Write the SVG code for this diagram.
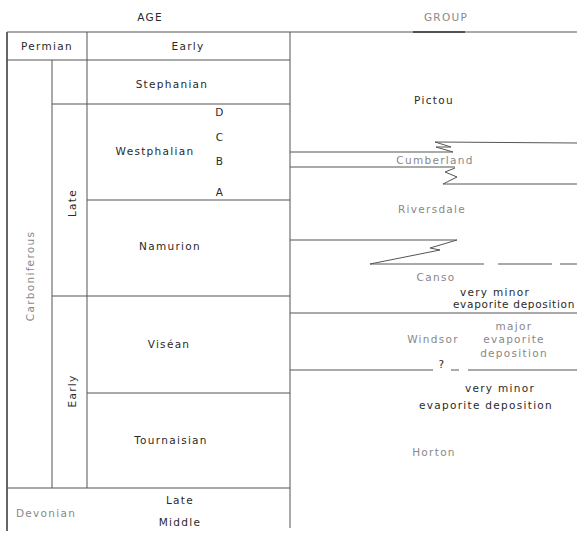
<svg xmlns="http://www.w3.org/2000/svg" width="577" height="534" viewBox="0 0 577 534">
<style>
.t{font-family:"DejaVu Sans",sans-serif;font-size:10.5px;fill:#2a2a2a;letter-spacing:1.3px;text-anchor:middle}
.s{fill:#888}
.l{stroke:#555;stroke-width:1;fill:none}
.b{stroke:#333;stroke-width:1.5;fill:none}
</style>
<rect width="577" height="534" fill="#fff"/>
<text class="t" x="150" y="21">AGE</text>
<text class="t s" x="446" y="21">GROUP</text>
<g id="table">
<line class="b" x1="7" y1="32" x2="7" y2="531"/>
<line class="l" x1="7" y1="32" x2="577" y2="32"/>
<line class="b" x1="413" y1="32" x2="465" y2="32"/>
<line class="l" x1="290" y1="32" x2="290" y2="528"/>
<line class="l" x1="87" y1="32" x2="87" y2="60"/>
<line class="l" x1="7" y1="60" x2="290" y2="60"/>
<line class="l" x1="52" y1="60" x2="52" y2="488"/>
<line class="l" x1="87" y1="60" x2="87" y2="488"/>
<line class="l" x1="52" y1="104" x2="290" y2="104"/>
<line class="l" x1="87" y1="200" x2="290" y2="200"/>
<line class="l" x1="52" y1="296" x2="290" y2="296"/>
<line class="l" x1="87" y1="393" x2="290" y2="393"/>
<line class="l" x1="7" y1="488" x2="290" y2="488"/>
</g>
<g id="age-labels">
<text class="t" x="47" y="50">Permian</text>
<text class="t" x="188" y="50">Early</text>
<text class="t" x="172" y="88">Stephanian</text>
<text class="t" x="155" y="155">Westphalian</text>
<text class="t" x="220" y="116">D</text>
<text class="t" x="220" y="141">C</text>
<text class="t" x="220" y="165">B</text>
<text class="t" x="220" y="196">A</text>
<text class="t" x="170" y="250">Namurion</text>
<text class="t" x="169" y="348">Viséan</text>
<text class="t" x="171" y="444">Tournaisian</text>
<text class="t s" x="46" y="517">Devonian</text>
<text class="t" x="180" y="504">Late</text>
<text class="t" x="180" y="526">Middle</text>
<text class="t" transform="translate(76,203) rotate(-90)">Late</text>
<text class="t" transform="translate(76,391) rotate(-90)">Early</text>
<text class="t s" transform="translate(34,276) rotate(-90)">Carboniferous</text>
</g>
<g id="connectors">
<polyline class="l" points="290,152 453,152 436,147 451,147 435,142 577,143"/>
<line class="l" x1="290" y1="167" x2="455" y2="167"/>
<polyline class="l" points="455,168 445,172 457,177 443,184 577,184"/>
<polyline class="l" points="290,240 457,240 430,248 440,250 370,264 484,264"/>
<line class="l" x1="498" y1="264" x2="552" y2="264"/>
<line class="l" x1="560" y1="264" x2="577" y2="264"/>
<line class="l" x1="290" y1="313" x2="577" y2="313"/>
<line class="l" x1="290" y1="370" x2="433" y2="370"/>
<line class="l" x1="451" y1="370" x2="459" y2="370"/>
<line class="l" x1="468" y1="370" x2="577" y2="370"/>
</g>
<g id="group-labels">
<text class="t" x="434" y="104">Pictou</text>
<text class="t s" x="435" y="164">Cumberland</text>
<text class="t s" x="432" y="213">Riversdale</text>
<text class="t s" x="436" y="281">Canso</text>
<text class="t" x="495" y="296">very minor</text>
<text class="t" x="575" y="308" style="text-anchor:end;letter-spacing:0.7px">evaporite deposition</text>
<text class="t s" x="433" y="343">Windsor</text>
<text class="t s" x="514" y="330">major</text>
<text class="t s" x="514" y="343">evaporite</text>
<text class="t s" x="514" y="357">deposition</text>
<text class="t" x="442" y="368">?</text>
<text class="t" x="500" y="392">very minor</text>
<text class="t" x="486" y="409">evaporite deposition</text>
<text class="t s" x="434" y="456">Horton</text>
</g>
</svg>
